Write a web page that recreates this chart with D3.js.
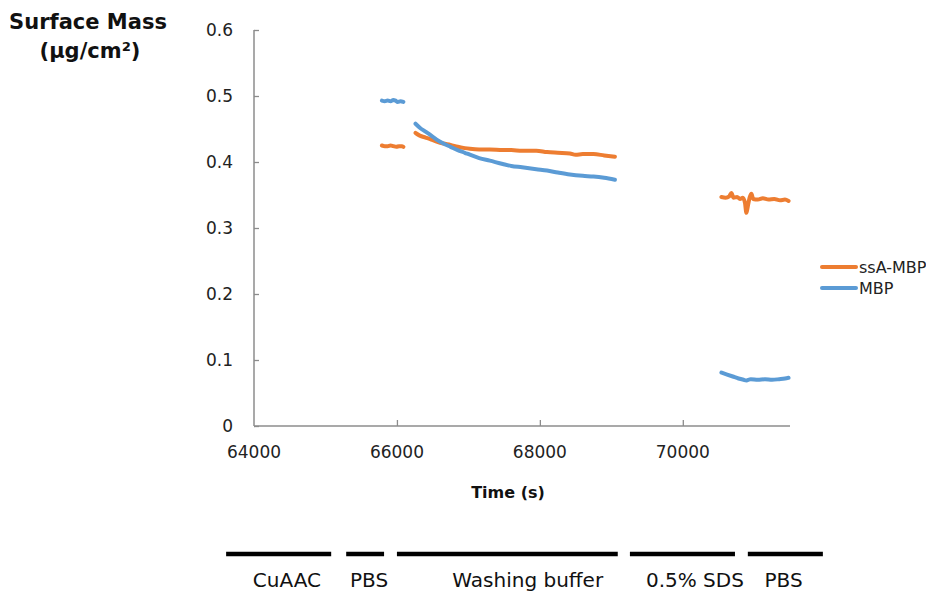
<!DOCTYPE html>
<html>
<head>
<meta charset="utf-8">
<script src="https://cdn.jsdelivr.net/npm/d3@7"></script>
<style>
  body { margin: 0; background: #fff; }
  svg { display: block; }
</style>
</head>
<body>
<svg id="chart" width="926" height="592"></svg>
<script>
// readings, time (s) and surface mass (µg/cm²), null = no data
let tMbp = [65790, 65830, 65870, 65910, 65950, 65980, 66010, 66050, 66090, null,
  66260, 66320, 66400, 66480, 66555, 66650, 66750, 66850, 66950, 67020, 67150, 67300,
  67480, 67600, 67750, 67950, 68100, 68250, 68420, 68600, 68750, 68900, 69050, null,
  70540, 70620, 70700, 70780, 70850, 70890, 70950, 71050, 71150, 71250, 71350, 71430, 71480];
let vMbp = [0.493, 0.492, 0.493, 0.492, 0.494, 0.493, 0.491, 0.492, 0.491, null,
  0.458, 0.452, 0.446, 0.440, 0.434, 0.428, 0.423, 0.418, 0.414, 0.411, 0.406, 0.402,
  0.397, 0.394, 0.392, 0.389, 0.387, 0.384, 0.381, 0.379, 0.378, 0.376, 0.373, null,
  0.081, 0.078, 0.075, 0.072, 0.070, 0.069, 0.071, 0.070, 0.071, 0.070, 0.071, 0.072, 0.073];

let tSsa = [65790, 65830, 65870, 65910, 65950, 65990, 66030, 66070, 66090, null,
  66260, 66320, 66400, 66480, 66555, 66650, 66750, 66850, 66950, 67020, 67150, 67300,
  67480, 67600, 67750, 67950, 68100, 68250, 68420, 68500, 68600, 68750, 68900, 69050, null,
  70540, 70600, 70650, 70680, 70710, 70760, 70800, 70840, 70870, 70890, 70910, 70935,
  70960, 70985, 71050, 71120, 71200, 71280, 71360, 71430, 71480];
let vSsa = [0.425, 0.424, 0.424, 0.425, 0.424, 0.423, 0.424, 0.424, 0.423, null,
  0.444, 0.440, 0.437, 0.434, 0.431, 0.428, 0.426, 0.423, 0.421, 0.420, 0.419, 0.419,
  0.418, 0.418, 0.417, 0.417, 0.415, 0.414, 0.413, 0.411, 0.412, 0.412, 0.410, 0.408, null,
  0.347, 0.346, 0.348, 0.353, 0.346, 0.347, 0.344, 0.346, 0.338, 0.323, 0.333, 0.346,
  0.352, 0.344, 0.343, 0.345, 0.343, 0.344, 0.342, 0.343, 0.341];

let seriesNames = ['ssA-MBP', 'MBP'];
let seriesColors = ['#ED7D31', '#5B9BD5'];

let yTicks = [0, 0.1, 0.2, 0.3, 0.4, 0.5, 0.6];
let xTicks = [64000, 66000, 68000, 70000];

// buffer phases under the plot (time s)
let phaseNames = ['CuAAC', 'PBS', 'Washing buffer', '0.5% SDS', 'PBS'];
let phaseStart = [63610, 65290, 66000, 69260, 70910];
let phaseEnd   = [65080, 65820, 69090, 70730, 71960];
let phaseLabelAt = [64460, 65610, 67830, 70170, 71410];

let svg = d3.select('#chart');
let plotLeft = 254, plotRight = 790, plotTop = 30, plotBottom = 426;
let axisColor = '#8c8c8c';
let tickFont = '"DejaVu Sans", Verdana, sans-serif';

let x = d3.scaleLinear().domain([64000, 71500]).range([plotLeft, plotRight]);
let y = d3.scaleLinear().domain([0, 0.6]).range([plotBottom, plotTop]);

// axes
let yAxis = svg.append('g').attr('transform', 'translate(' + plotLeft + ',0)')
    .call(d3.axisRight(y).tickValues(yTicks).tickSize(5).tickFormat(''));
yAxis.select('.domain').remove();
yAxis.selectAll('line').attr('stroke', axisColor).attr('stroke-width', 1.3);

let xAxis = svg.append('g').attr('transform', 'translate(0,' + plotBottom + ')')
    .call(d3.axisTop(x).tickValues(xTicks.slice(1)).tickSize(6).tickFormat(''));
xAxis.select('.domain').remove();
xAxis.selectAll('line').attr('stroke', axisColor).attr('stroke-width', 1.3);

svg.append('line').attr('x1', plotLeft).attr('x2', plotLeft).attr('y1', plotTop).attr('y2', plotBottom)
    .attr('stroke', axisColor).attr('stroke-width', 1.5);
svg.append('line').attr('x1', plotLeft).attr('x2', plotRight).attr('y1', plotBottom).attr('y2', plotBottom)
    .attr('stroke', axisColor).attr('stroke-width', 1.5);

svg.selectAll('.ylab').data(yTicks).enter().append('text')
    .attr('class', 'ylab')
    .attr('x', 233).attr('y', d => y(d)).attr('dy', '0.36em')
    .attr('text-anchor', 'end')
    .style('font-family', tickFont).style('font-size', '17px').style('fill', '#222')
    .text(d => d === 0 ? '0' : d3.format('.1f')(d));

svg.selectAll('.xlab').data(xTicks).enter().append('text')
    .attr('class', 'xlab')
    .attr('x', d => x(d)).attr('y', 458)
    .attr('text-anchor', 'middle')
    .style('font-family', tickFont).style('font-size', '17px').style('fill', '#222')
    .text(d => d);

// titles
let title = svg.append('text').attr('text-anchor', 'middle')
    .style('font-family', tickFont).style('font-weight', 'bold').style('font-size', '21px').style('fill', '#111');
title.append('tspan').attr('x', 88).attr('y', 29).text('Surface Mass');
title.append('tspan').attr('x', 90).attr('y', 58).text('(µg/cm²)');

svg.append('text').attr('x', 508).attr('y', 498).attr('text-anchor', 'middle')
    .style('font-family', tickFont).style('font-weight', 'bold').style('font-size', '16px').style('fill', '#111')
    .text('Time (s)');

// traces
let line = d3.line()
    .defined(d => d[0] !== null && d[1] !== null)
    .x(d => x(d[0])).y(d => y(d[1]))
    .curve(d3.curveMonotoneX);

let traces = [d3.zip(tSsa, vSsa), d3.zip(tMbp, vMbp)];
traces.forEach(function (pts, i) {
    svg.append('path').datum(pts)
        .attr('d', line)
        .attr('fill', 'none')
        .attr('stroke', seriesColors[i])
        .attr('stroke-width', 4)
        .attr('stroke-linejoin', 'round')
        .attr('stroke-linecap', 'round');
});

// legend
seriesNames.forEach(function (name, i) {
    let ly = 267 + i * 21;
    svg.append('line').attr('x1', 822).attr('x2', 856).attr('y1', ly).attr('y2', ly)
        .attr('stroke', seriesColors[i]).attr('stroke-width', 4).attr('stroke-linecap', 'round');
    svg.append('text').attr('x', 859).attr('y', ly).attr('dy', '0.36em')
        .style('font-family', '"DejaVu Sans", sans-serif').style('font-size', '16px').style('fill', '#222')
        .text(name);
});

// buffer phases
phaseNames.forEach(function (name, i) {
    svg.append('line')
        .attr('x1', x(phaseStart[i])).attr('x2', x(phaseEnd[i]))
        .attr('y1', 554).attr('y2', 554)
        .attr('stroke', '#000').attr('stroke-width', 4.3);
    svg.append('text')
        .attr('x', x(phaseLabelAt[i])).attr('y', 587)
        .attr('text-anchor', 'middle')
        .style('font-family', '"DejaVu Sans", sans-serif')
        .style('font-size', '20px').style('fill', '#111')
        .text(name);
});
</script>
</body>
</html>
